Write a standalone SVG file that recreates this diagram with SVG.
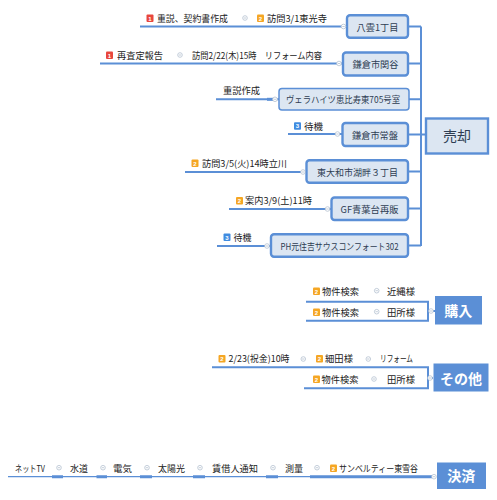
<svg xmlns="http://www.w3.org/2000/svg" xmlns:xlink="http://www.w3.org/1999/xlink" width="497" height="500" viewBox="0 0 497 500">
<style>
.ln{stroke:#5b8fd6;stroke-width:2;fill:none}
.tn{stroke:#5b8fd6;stroke-width:1.3;fill:none}
.tk{stroke:#5b8fd6;stroke-width:3;fill:none}
.box{fill:#dce6f2;stroke:#5b8fd6;stroke-width:2.4}
.box2{fill:#dce6f2;stroke:#5b8fd6;stroke-width:1.5}
.cat{fill:#5b8fd6}
.t{font-family:"Noto Sans CJK JP","Noto Sans",sans-serif;font-size:9.2px;fill:#222}
.bt{font-family:"Noto Sans CJK JP","Noto Sans",sans-serif;font-size:9.2px;fill:#2e3d52;text-anchor:middle}
.ct{font-family:"Noto Sans CJK JP","Noto Sans",sans-serif;font-size:14px;fill:#2e3d52;text-anchor:middle}
.cw{font-family:"Noto Sans CJK JP","Noto Sans",sans-serif;font-size:14px;font-weight:bold;fill:#fff;text-anchor:middle}
.bn{font-family:"Liberation Sans",sans-serif;font-size:6px;font-weight:bold;fill:#fff;text-anchor:middle}
.cc{fill:#fff;stroke:#b5c1d1;stroke-width:0.8}
.cm{stroke:#b5c1d1;stroke-width:0.8}
</style>
<defs>
<g id="b1"><rect x="0" y="0" width="7" height="7.5" rx="1" fill="#e8463c"/><text class="bn" x="3.5" y="6">1</text></g>
<g id="b2"><rect x="0" y="0" width="7" height="7.5" rx="1" fill="#f5a623"/><text class="bn" x="3.5" y="6">2</text></g>
<g id="b3"><rect x="0" y="0" width="7" height="7.5" rx="1" fill="#3f8be0"/><text class="bn" x="3.5" y="6">3</text></g>
<g id="col"><circle class="cc" cx="0" cy="0" r="2.3"/><line class="cm" x1="-1.2" y1="0" x2="1.2" y2="0"/></g>
</defs>

<g id="connectors">
<path class="ln" d="M140 26.5H347M100 63.5H343M216 99.3H279M288 134H342M185 172H306M229 209H331M217 246H271"/>
<path class="tk" d="M267 99.3H276"/>
<path class="ln" d="M421 26.5V246M408 26.5H421M408 63.5H421M409 99.3H421M408 134.5H421M408 171.5H421M408 208.5H421M408 245.5H421M421 134.5H426"/>
<path class="ln" d="M306 301.7H428V320.7H306M428 311H435"/>
<path class="ln" d="M212 367.3H428V388.3H304M428 378H433"/>
<path class="tn" d="M8 476.7H434"/>
<path class="tk" d="M52 476.7H63M96.5 476.7H107M140 476.7H152M193 476.7H205M266 476.7H278M310 476.7H432"/>
</g>

<g id="n-baikyaku"><rect class="box" x="426" y="118.5" width="62" height="35"/><text class="ct" x="457" y="141">売却</text></g>

<g id="n-yakumo">
<rect class="box" x="347" y="15.3" width="61" height="22.5" rx="3"/><text class="bt" x="377.5" y="30.5">八雲1丁目</text>
<use xlink:href="#col" x="343.5" y="26.5"/>
<use xlink:href="#b1" x="146.5" y="14.5"/><text class="t" x="157" y="21.5" textLength="71" lengthAdjust="spacingAndGlyphs">重説、契約書作成</text>
<use xlink:href="#col" x="245" y="18"/>
<use xlink:href="#b2" x="257" y="14.5"/><text class="t" x="267" y="21.5" textLength="60" lengthAdjust="spacingAndGlyphs">訪問3/1東光寺</text>
</g>

<g id="n-sekiya">
<rect class="box" x="343" y="52.5" width="65" height="23" rx="3"/><text class="bt" x="375.5" y="67.5">鎌倉市関谷</text>
<use xlink:href="#col" x="339" y="63.5"/>
<use xlink:href="#b1" x="106" y="51.5"/><text class="t" x="117" y="58.5" textLength="46" lengthAdjust="spacingAndGlyphs">再査定報告</text>
<use xlink:href="#col" x="180" y="55"/>
<text class="t" x="192" y="58.5" textLength="130" lengthAdjust="spacingAndGlyphs">訪問2/22(木)15時　リフォーム内容</text>
</g>

<g id="n-vera">
<rect class="box2" x="279" y="88.5" width="130" height="21.5" rx="3"/><text class="bt" x="343" y="103.3" textLength="114" lengthAdjust="spacingAndGlyphs">ヴェラハイツ恵比寿東705号室</text>
<use xlink:href="#col" x="275" y="99.3"/>
<text class="t" x="223" y="94" textLength="37" lengthAdjust="spacingAndGlyphs">重説作成</text>
</g>

<g id="n-tokiwa">
<rect class="box" x="342.5" y="123" width="65.5" height="23" rx="3"/><text class="bt" x="375" y="138.5">鎌倉市常盤</text>
<use xlink:href="#col" x="337.5" y="134"/>
<use xlink:href="#b3" x="294" y="122.3"/><text class="t" x="304" y="129.5" textLength="19" lengthAdjust="spacingAndGlyphs">待機</text>
</g>

<g id="n-higashiyamato">
<rect class="box" x="306.5" y="160.3" width="101.5" height="22.5" rx="3"/><text class="bt" x="357.5" y="175.8" textLength="81" lengthAdjust="spacingAndGlyphs">東大和市湖畔３丁目</text>
<use xlink:href="#col" x="303" y="172"/>
<use xlink:href="#b2" x="191.5" y="159.5"/><text class="t" x="202" y="166.7" textLength="85" lengthAdjust="spacingAndGlyphs">訪問3/5(火)14時立川</text>
</g>

<g id="n-gf">
<rect class="box" x="331.5" y="197.5" width="76.5" height="22.5" rx="3"/><text class="bt" x="369.5" y="212.8" textLength="58" lengthAdjust="spacingAndGlyphs">GF青葉台再販</text>
<use xlink:href="#col" x="327.5" y="209"/>
<use xlink:href="#b2" x="236" y="197"/><text class="t" x="245" y="204" textLength="67" lengthAdjust="spacingAndGlyphs">案内3/9(土)11時</text>
</g>

<g id="n-ph">
<rect class="box" x="271" y="234.3" width="137" height="22.5" rx="3"/><text class="bt" x="339.5" y="249.8" textLength="118" lengthAdjust="spacingAndGlyphs">PH元住吉サウスコンフォート302</text>
<use xlink:href="#col" x="267" y="246"/>
<use xlink:href="#b3" x="223.5" y="233.5"/><text class="t" x="233.5" y="240.7" textLength="18" lengthAdjust="spacingAndGlyphs">待機</text>
</g>

<g id="n-kounyu">
<rect class="cat" x="435" y="296" width="47" height="28.5"/><text class="cw" x="458.3" y="315.5">購入</text>
<use xlink:href="#col" x="431" y="311"/>
<use xlink:href="#b2" x="313" y="287.5"/><text class="t" x="322" y="294.8" textLength="37" lengthAdjust="spacingAndGlyphs">物件検索</text>
<use xlink:href="#col" x="376.7" y="290.7"/>
<text class="t" x="387" y="294.8" textLength="28" lengthAdjust="spacingAndGlyphs">近縄様</text>
<use xlink:href="#b2" x="313" y="308.5"/><text class="t" x="322" y="315.8" textLength="37" lengthAdjust="spacingAndGlyphs">物件検索</text>
<use xlink:href="#col" x="376.7" y="311.7"/>
<text class="t" x="387" y="315.8" textLength="28" lengthAdjust="spacingAndGlyphs">田所様</text>
</g>

<g id="n-sonota">
<rect class="cat" x="433.5" y="363.5" width="55" height="28"/><text class="cw" x="461" y="383.5">その他</text>
<use xlink:href="#col" x="430" y="378"/>
<use xlink:href="#b2" x="218.5" y="355"/><text class="t" x="228.5" y="362.3" textLength="61" lengthAdjust="spacingAndGlyphs">2/23(祝金)10時</text>
<use xlink:href="#col" x="303.3" y="359"/>
<use xlink:href="#b2" x="316" y="355"/><text class="t" x="325" y="362.3" textLength="28" lengthAdjust="spacingAndGlyphs">細田様</text>
<use xlink:href="#col" x="368.3" y="359"/>
<text class="t" x="380" y="362.3" textLength="33" lengthAdjust="spacingAndGlyphs">リフォーム</text>
<use xlink:href="#b2" x="313" y="375.5"/><text class="t" x="321.5" y="382.7" textLength="37" lengthAdjust="spacingAndGlyphs">物件検索</text>
<use xlink:href="#col" x="374" y="379"/>
<text class="t" x="387" y="382.7" textLength="28" lengthAdjust="spacingAndGlyphs">田所様</text>
</g>

<g id="n-kessai">
<rect class="cat" x="437" y="462.5" width="49" height="26.5"/><text class="cw" x="461.3" y="480.8">決済</text>
<use xlink:href="#col" x="434" y="476.7"/>
<text class="t" x="15" y="471.7" textLength="30" lengthAdjust="spacingAndGlyphs">ネットTV</text>
<use xlink:href="#col" x="59" y="467.7"/>
<text class="t" x="70" y="471.7" textLength="18" lengthAdjust="spacingAndGlyphs">水道</text>
<use xlink:href="#col" x="103" y="467.7"/>
<text class="t" x="113" y="471.7" textLength="19" lengthAdjust="spacingAndGlyphs">電気</text>
<use xlink:href="#col" x="147" y="467.7"/>
<text class="t" x="158" y="471.7" textLength="27" lengthAdjust="spacingAndGlyphs">太陽光</text>
<use xlink:href="#col" x="200" y="467.7"/>
<text class="t" x="212" y="471.7" textLength="46" lengthAdjust="spacingAndGlyphs">賃借人通知</text>
<use xlink:href="#col" x="273" y="467.7"/>
<text class="t" x="285" y="471.7" textLength="18" lengthAdjust="spacingAndGlyphs">測量</text>
<use xlink:href="#col" x="317" y="467.7"/>
<use xlink:href="#b2" x="330" y="464.5"/><text class="t" x="339" y="471.7" textLength="79" lengthAdjust="spacingAndGlyphs">サンベルティー東雪谷</text>
</g>
</svg>
